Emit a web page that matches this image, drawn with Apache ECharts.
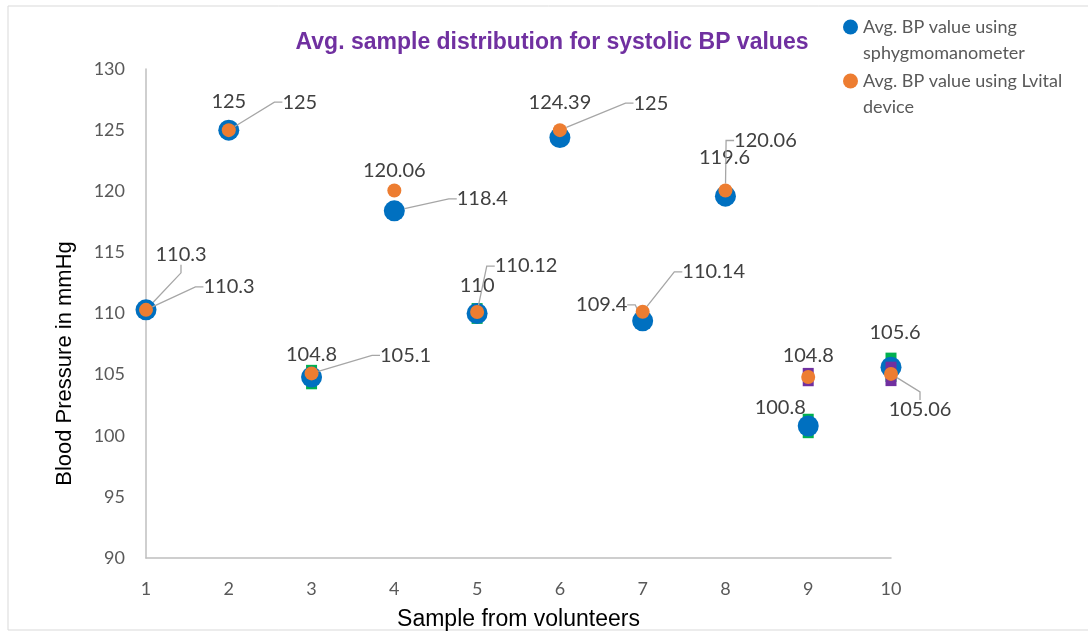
<!DOCTYPE html>
<html>
<head>
<meta charset="utf-8">
<script src="https://cdn.jsdelivr.net/npm/echarts@6/dist/echarts.min.js"></script>
<style>
  html, body { margin: 0; padding: 0; background: #fff; }
  #chart { width: 1088px; height: 633px; }
</style>
</head>
<body>
<div id="chart"></div>
<script>
// Data
const samples = [1, 2, 3, 4, 5, 6, 7, 8, 9, 10];
const sphygmo = [110.3, 125, 104.8, 118.4, 110, 124.39, 109.4, 119.6, 100.8, 105.6];
const lvital = [110.3, 125, 105.1, 120.06, 110.12, 125, 110.14, 120.06, 104.8, 105.06];
// error bar half-lengths (estimated)
const sphygmoErr = [0.5, 0.7, 1.0, 0.6, 0.85, 0.6, 0.6, 0.6, 1.0, 1.2];
const lvitalErr = [0.3, 0.3, 0.3, 0.3, 0.3, 0.3, 0.3, 0.3, 0.75, 1.0];

const NAME_A = "Avg. BP value using sphygmomanometer";
const NAME_B = "Avg. BP value using Lvital device";

// label placement: [dx, dy, leader line]
const sphygmoLabelPos = [
  [35, -55, true], [0, -29, false], [0, -23, false], [88, -12, true], [0, -28, false],
  [0, -35, false], [-41, -16, true], [-1, -39, false], [-28, -18, false], [4, -35, false],
];
const lvitalLabelPos = [
  [83, -23, true], [71, -28, true], [94, -18, true], [0, -20, false], [49, -46, true],
  [91, -27, true], [71, -40, true], [40, -50, true], [0, -22, false], [29, 36, true],
];

const labelFont = "Lato, 'Open Sans', sans-serif";
const helv = "'Liberation Sans', Arial, sans-serif";
const leaderStyle = { color: "#A6A6A6", width: 1.3 };

function pointData(values, pos) {
  return values.map((v, i) => ({
    value: [samples[i], v],
    labelLine: { show: pos[i][2] },
  }));
}

function errData(values, errs) {
  return values.map((v, i) => [samples[i], v - errs[i], v + errs[i]]);
}

function errRender(color) {
  return function (params, api) {
    const top = api.coord([api.value(0), api.value(2)]);
    const bottom = api.coord([api.value(0), api.value(1)]);
    return {
      type: "rect",
      shape: { x: top[0] - 5.5, y: top[1], width: 11, height: bottom[1] - top[1] },
      style: { fill: color },
    };
  };
}

function scatterSeries(name, values, pos, color, size, z) {
  return {
    name,
    type: "scatter",
    z,
    data: pointData(values, pos),
    symbol: "circle",
    symbolSize: size,
    itemStyle: { color, opacity: 1 },
    label: {
      show: true,
      position: "inside",
      formatter: (p) => String(p.value[1]),
      color: "#404040",
      fontFamily: labelFont,
      fontSize: 20,
    },
    labelLayout: (p) => ({ dx: pos[p.dataIndex][0], dy: pos[p.dataIndex][1] }),
    labelLine: { show: false, length2: 8, lineStyle: leaderStyle },
    emphasis: { disabled: true },
  };
}

const chart = echarts.init(document.getElementById("chart"), null, { renderer: "canvas" });

chart.setOption({
  animation: false,
  backgroundColor: "#fff",
  title: {
    text: "Avg. sample distribution for systolic BP values",
    left: 547,
    top: 26,
    textAlign: "center",
    textStyle: { color: "#7030A0", fontFamily: helv, fontWeight: "bold", fontSize: 23 },
  },
  legend: {
    data: [NAME_A, NAME_B],
    orient: "vertical",
    left: 843,
    top: -12,
    padding: 0,
    itemWidth: 15,
    itemHeight: 15,
    itemGap: -24,
    icon: "circle",
    // blank first line keeps the marker level with the first text line
    formatter: (n) =>
      n === NAME_A ? "\nAvg. BP value using\nsphygmomanometer" : "\nAvg. BP value using Lvital\ndevice",
    textStyle: { color: "#595959", fontFamily: labelFont, fontSize: 18, lineHeight: 26 },
  },
  graphic: [
    {
      type: "rect",
      shape: { x: 8, y: 6, width: 1100, height: 624 },
      style: { fill: null, stroke: "#D9D9D9", lineWidth: 1 },
      silent: true,
      z: -1,
    },
  ],
  grid: { left: 146, right: 197, top: 69, bottom: 75, containLabel: false, outerBoundsMode: "none" },
  xAxis: {
    type: "value",
    min: 1,
    max: 10,
    interval: 1,
    name: "Sample from volunteers",
    nameLocation: "middle",
    nameGap: 50,
    nameTextStyle: { color: "#000", fontFamily: helv, fontSize: 23 },
    axisLine: { lineStyle: { color: "#BFBFBF", width: 1.5 } },
    axisTick: { show: false },
    axisLabel: { color: "#595959", fontFamily: labelFont, fontSize: 18, margin: 22 },
    splitLine: { show: false },
  },
  yAxis: {
    type: "value",
    min: 90,
    max: 130,
    interval: 5,
    name: "Blood Pressure in mmHg",
    nameLocation: "middle",
    nameGap: 70,
    // the title sits below the middle of the axis in the reference
    nameTextStyle: { color: "#000", fontFamily: helv, fontSize: 22, padding: [0, 100, 0, 0] },
    axisLine: { show: true, lineStyle: { color: "#BFBFBF", width: 1.5 } },
    axisTick: { show: false },
    axisLabel: { color: "#595959", fontFamily: labelFont, fontSize: 18, margin: 21 },
    splitLine: { show: false },
  },
  series: [
    {
      name: "err-sphygmo",
      type: "custom",
      z: 1,
      renderItem: errRender("#00B050"),
      data: errData(sphygmo, sphygmoErr),
      encode: { x: 0, y: [1, 2] },
      silent: true,
    },
    scatterSeries(NAME_A, sphygmo, sphygmoLabelPos, "#0070C0", 21, 2),
    {
      name: "err-lvital",
      type: "custom",
      z: 3,
      renderItem: errRender("#7030A0"),
      data: errData(lvital, lvitalErr),
      encode: { x: 0, y: [1, 2] },
      silent: true,
    },
    scatterSeries(NAME_B, lvital, lvitalLabelPos, "#ED7D31", 14, 4),
  ],
});
</script>
</body>
</html>
